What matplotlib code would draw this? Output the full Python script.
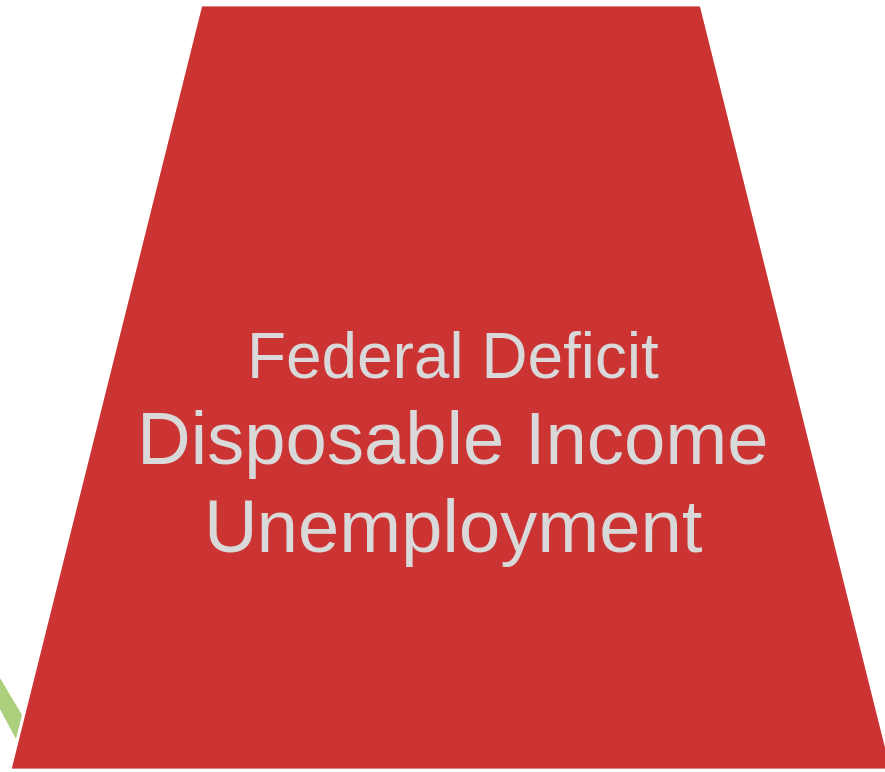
import matplotlib
matplotlib.use("Agg")
import matplotlib.pyplot as plt
from matplotlib.patches import Polygon

# trapezoid outline (pixel coords, y down)
trap_x = [201, 701, 892, 10]
trap_y = [5, 5, 770, 770]
# green stripe peeking out at bottom left
stripe_x = [-5, 0, 22, 16, -5]
stripe_y = [672, 678, 715, 739, 700]

labels = ["Federal Deficit", "Disposable Income", "Unemployment"]
label_sizes = [46, 53.5, 53.5]
label_baselines = [377, 464, 552]

fig = plt.figure(figsize=(8.85, 7.72), dpi=100)
ax = fig.add_axes([0, 0, 1, 1])
ax.set_xlim(0, 885)
ax.set_ylim(772, 0)
ax.axis("off")

ax.add_patch(Polygon(list(zip(stripe_x, stripe_y)), closed=True,
                     facecolor="#abcf7c", edgecolor="none"))
ax.add_patch(Polygon(list(zip(trap_x, trap_y)), closed=True,
                     facecolor="#cc3333", edgecolor="white", linewidth=2))

for txt, fs, yb in zip(labels, label_sizes, label_baselines):
    ax.text(453, yb, txt, fontsize=fs, color="#d9d9d9",
            family="Liberation Sans", ha="center", va="baseline")

fig.savefig("out.png", dpi=100)
